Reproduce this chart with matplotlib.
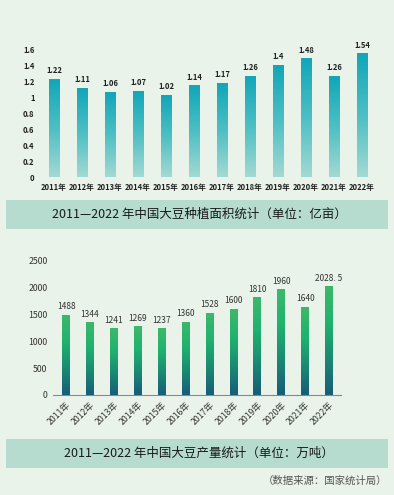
import matplotlib.pyplot as plt
import numpy as np
from matplotlib.colors import LinearSegmentedColormap
from matplotlib.patches import Rectangle

plt.rcParams['font.family'] = ['Noto Sans CJK SC', 'DejaVu Sans']

years = ['2011年', '2012年', '2013年', '2014年', '2015年', '2016年',
         '2017年', '2018年', '2019年', '2020年', '2021年', '2022年']
area = [1.22, 1.11, 1.06, 1.07, 1.02, 1.14, 1.17, 1.26, 1.4, 1.48, 1.26, 1.54]
area_labels = ['1.22', '1.11', '1.06', '1.07', '1.02', '1.14', '1.17', '1.26',
               '1.4', '1.48', '1.26', '1.54']
output = [1488, 1344, 1241, 1269, 1237, 1360, 1528, 1600, 1810, 1960, 1640, 2028.5]
output_labels = ['1488', '1344', '1241', '1269', '1237', '1360', '1528', '1600',
                 '1810', '1960', '1640', '2028. 5']

bg = '#e9f3ea'
box = '#b5dccf'

fig = plt.figure(figsize=(3.94, 4.95), dpi=100, facecolor=bg)

teal = LinearSegmentedColormap.from_list('teal', ['#a3d9d4', '#4dbfc4', '#12a6b8'])
green = LinearSegmentedColormap.from_list('green', ['#175c78', '#1a8a72', '#20b26f', '#3db86a'])
grad = np.linspace(0, 1, 256).reshape(-1, 1)


def gradient_bars(ax, values, width, cmap):
    for i, v in enumerate(values):
        ax.imshow(grad, extent=[i - width / 2, i + width / 2, 0, v], origin='lower',
                  aspect='auto', cmap=cmap, zorder=2)


# top chart: planting area
ax1 = fig.add_axes([40 / 394, 1 - 177 / 495, 336 / 394, 128 / 495])
ax1.set_facecolor('none')
gradient_bars(ax1, area, 0.36, teal)
ax1.set_xlim(-0.5, 11.5)
ax1.set_ylim(0, 1.6)
ax1.set_yticks(np.arange(0, 1.7, 0.2))
ax1.set_yticklabels(['0', '0.2', '0.4', '0.6', '0.8', '1', '1.2', '1.4', '1.6'])
ax1.set_xticks(range(len(years)))
ax1.set_xticklabels(years)
ax1.tick_params(length=0, labelsize=5.5, pad=4, colors='#222222')
for lbl in ax1.get_xticklabels() + ax1.get_yticklabels():
    lbl.set_fontweight('bold')
for s in ax1.spines.values():
    s.set_visible(False)
for i, (v, t) in enumerate(zip(area, area_labels)):
    ax1.text(i, v + 0.05, t, ha='center', va='bottom', fontsize=5.5,
             fontweight='bold', color='#222222')

# bottom chart: output
ax2 = fig.add_axes([53 / 394, 1 - 395 / 495, 288 / 394, 134 / 495])
ax2.set_facecolor('none')
gradient_bars(ax2, output, 0.33, green)
ax2.set_xlim(-0.55, 11.5)
ax2.set_ylim(0, 2500)
ax2.set_yticks(range(0, 2501, 500))
ax2.set_xticks(range(len(years)))
ax2.set_xticklabels(years, rotation=45, ha='right', rotation_mode='anchor')
ax2.tick_params(length=0, labelsize=6.3, pad=4, colors='#333333')
for s in ['top', 'right', 'left']:
    ax2.spines[s].set_visible(False)
ax2.spines['bottom'].set_color('#888888')
ax2.spines['bottom'].set_linewidth(0.8)
for i, (v, t) in enumerate(zip(output, output_labels)):
    ax2.text(i, v + 70, t, ha='center', va='bottom', fontsize=6, color='#333333')

# title boxes
fig.patches.append(Rectangle((6 / 394, 1 - 229 / 495), 382 / 394, 29 / 495,
                             transform=fig.transFigure, facecolor=box, edgecolor='none'))
fig.text(199 / 394, 1 - 214 / 495, '2011—2022 年中国大豆种植面积统计（单位：亿亩）',
         ha='center', va='center', fontsize=9, color='#1a1a1a')
fig.patches.append(Rectangle((6 / 394, 1 - 468 / 495), 382 / 394, 29 / 495,
                             transform=fig.transFigure, facecolor=box, edgecolor='none'))
fig.text(199 / 394, 1 - 453 / 495, '2011—2022 年中国大豆产量统计（单位：万吨）',
         ha='center', va='center', fontsize=9, color='#1a1a1a')
fig.text(387 / 394, 1 - 481 / 495, '（数据来源：国家统计局）',
         ha='right', va='center', fontsize=7.5, color='#555555')

fig.savefig('out.png', dpi=100, facecolor=bg)
